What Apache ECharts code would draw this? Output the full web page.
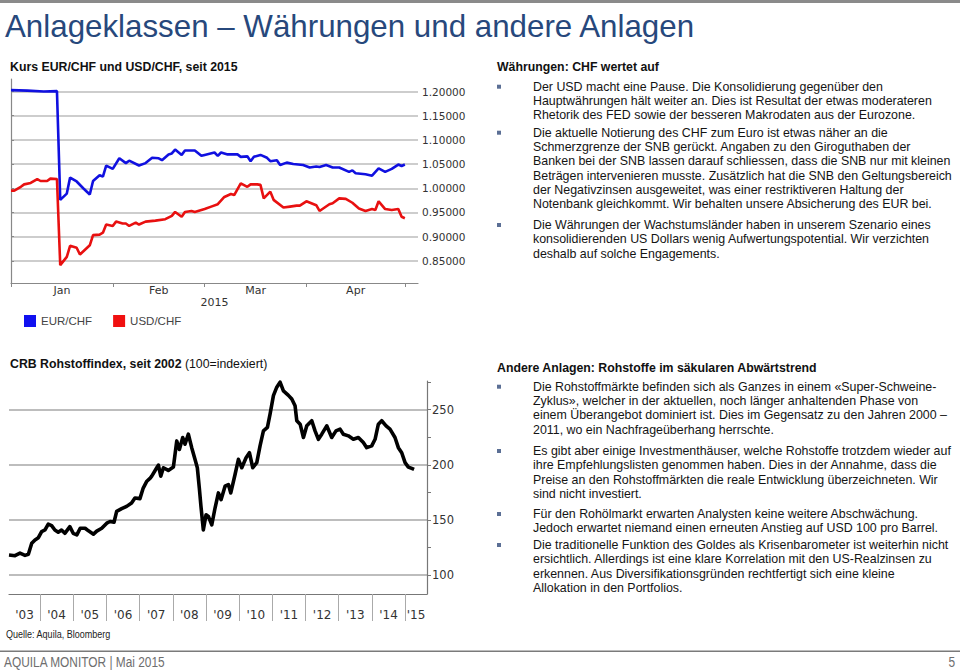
<!DOCTYPE html>
<html>
<head>
<meta charset="utf-8">
<script src="https://cdn.jsdelivr.net/npm/echarts@6/dist/echarts.min.js"></script>
<style>
html,body{margin:0;padding:0;background:#fff;}
#chart{width:960px;height:671px;}
</style>
</head>
<body>
<div id="chart"></div>
<script>
// ---------------- DATA ----------------
// Kurs EUR/CHF und USD/CHF, 2015
const eurDates = ['2015-01-01','2015-01-06','2015-01-11','2015-01-15','2015-01-16','2015-01-18','2015-01-19','2015-01-21','2015-01-23','2015-01-25','2015-01-26','2015-01-28','2015-01-29','2015-01-30','2015-02-01','2015-02-03','2015-02-05','2015-02-06','2015-02-09','2015-02-11','2015-02-13','2015-02-15','2015-02-16','2015-02-18','2015-02-19','2015-02-20','2015-02-22','2015-02-23','2015-02-26','2015-02-28','2015-03-01','2015-03-04','2015-03-05','2015-03-06','2015-03-08','2015-03-11','2015-03-12','2015-03-14','2015-03-15','2015-03-16','2015-03-18','2015-03-20','2015-03-21','2015-03-23','2015-03-24','2015-03-26','2015-03-28','2015-03-31','2015-04-02','2015-04-04','2015-04-05','2015-04-07','2015-04-09','2015-04-11','2015-04-14','2015-04-15','2015-04-16','2015-04-19','2015-04-21','2015-04-23','2015-04-25','2015-04-27','2015-04-29','2015-04-30','2015-05-01'];
const eurValues = [1.203,1.202,1.200,1.201,0.976,0.989,1.022,1.014,1.000,0.987,1.015,1.027,1.024,1.047,1.040,1.062,1.052,1.057,1.047,1.052,1.063,1.062,1.058,1.070,1.072,1.080,1.069,1.078,1.078,1.067,1.069,1.074,1.067,1.074,1.070,1.070,1.065,1.066,1.056,1.065,1.069,1.063,1.056,1.058,1.048,1.053,1.050,1.048,1.043,1.045,1.044,1.048,1.043,1.043,1.034,1.037,1.031,1.029,1.026,1.041,1.034,1.040,1.049,1.046,1.049];

const usdDates = ['2015-01-01','2015-01-02','2015-01-04','2015-01-05','2015-01-07','2015-01-09','2015-01-10','2015-01-12','2015-01-13','2015-01-15','2015-01-16','2015-01-18','2015-01-19','2015-01-21','2015-01-22','2015-01-25','2015-01-26','2015-01-28','2015-01-29','2015-01-30','2015-02-01','2015-02-02','2015-02-04','2015-02-05','2015-02-06','2015-02-08','2015-02-09','2015-02-11','2015-02-14','2015-02-17','2015-02-19','2015-02-20','2015-02-22','2015-02-23','2015-02-25','2015-02-26','2015-03-01','2015-03-03','2015-03-05','2015-03-07','2015-03-09','2015-03-10','2015-03-12','2015-03-14','2015-03-15','2015-03-17','2015-03-18','2015-03-19','2015-03-21','2015-03-22','2015-03-25','2015-03-27','2015-03-29','2015-03-30','2015-04-01','2015-04-04','2015-04-05','2015-04-08','2015-04-09','2015-04-11','2015-04-13','2015-04-15','2015-04-17','2015-04-19','2015-04-21','2015-04-22','2015-04-23','2015-04-25','2015-04-27','2015-04-29','2015-04-30','2015-05-01'];
const usdValues = [0.995,0.995,1.003,1.008,1.011,1.019,1.015,1.015,1.020,1.019,0.841,0.858,0.881,0.877,0.863,0.882,0.903,0.904,0.908,0.925,0.922,0.931,0.927,0.927,0.922,0.929,0.925,0.931,0.933,0.936,0.943,0.951,0.941,0.951,0.953,0.951,0.957,0.962,0.967,0.982,0.988,0.986,1.010,1.003,1.008,1.008,1.007,0.979,0.993,0.976,0.960,0.962,0.964,0.964,0.973,0.965,0.953,0.967,0.969,0.979,0.978,0.970,0.958,0.953,0.957,0.955,0.973,0.957,0.955,0.957,0.941,0.938];

const fxSeriesNames = ['EUR/CHF','USD/CHF'];
const fxMonthLabels = ['Jan','Feb','Mar','Apr'];
const fxMonthStarts = ['2015-01-01','2015-02-01','2015-03-01','2015-04-01','2015-05-01'];
const fxYearLabel = '2015';
const fxTicks = [0.85,0.90,0.95,1.00,1.05,1.10,1.15,1.20];

// CRB Rohstoffindex
const crbDates = ['2003-01-25','2003-04-01','2003-05-26','2003-07-20','2003-08-26','2003-10-02','2003-11-07','2003-12-14','2004-01-19','2004-02-25','2004-04-01','2004-05-08','2004-06-13','2004-07-20','2004-08-25','2004-10-01','2004-11-25','2005-01-01','2005-02-10','2005-03-19','2005-05-12','2005-06-18','2005-08-12','2005-09-17','2005-11-11','2006-01-05','2006-02-10','2006-03-26','2006-04-24','2006-06-18','2006-08-12','2006-10-05','2006-11-11','2007-01-05','2007-02-10','2007-03-22','2007-04-28','2007-05-15','2007-07-09','2007-07-27','2007-08-22','2007-09-20','2007-11-13','2008-01-08','2008-02-14','2008-03-14','2008-04-20','2008-05-15','2008-06-21','2008-07-28','2008-09-02','2008-09-28','2008-10-20','2008-11-07','2008-12-03','2009-01-02','2009-01-28','2009-03-06','2009-04-11','2009-05-18','2009-06-16','2009-07-30','2009-09-05','2009-10-01','2009-11-17','2009-12-24','2010-01-30','2010-03-18','2010-04-24','2010-05-31','2010-07-14','2010-08-19','2010-09-25','2010-11-08','2010-12-07','2011-01-13','2011-02-19','2011-03-27','2011-05-03','2011-06-27','2011-08-03','2011-09-08','2011-09-27','2011-11-03','2011-12-09','2012-01-15','2012-03-10','2012-04-15','2012-05-22','2012-06-28','2012-08-22','2012-10-16','2012-12-02','2013-01-16','2013-02-21','2013-04-17','2013-06-11','2013-08-05','2013-09-29','2013-11-05','2013-12-30','2014-02-05','2014-03-13','2014-04-19','2014-06-06','2014-07-19','2014-09-12','2014-10-19','2014-11-25','2015-01-01','2015-02-06','2015-03-15','2015-04-10'];
const crbValues = [118.3,117.7,120.0,118.0,119.0,129.0,132.0,134.0,139.6,141.0,146.3,145.0,141.0,139.0,141.0,138.0,144.0,138.0,136.6,142.6,142.6,140.2,137.2,140.0,142.6,147.2,148.7,148.0,157.9,160.3,162.4,165.5,170.0,169.4,179.0,185.2,188.0,189.8,197.4,199.8,189.8,197.4,195.0,198.0,221.7,214.0,224.8,218.7,227.8,215.6,205.0,197.4,179.0,162.4,141.1,154.8,153.3,145.7,160.9,174.6,168.5,180.7,182.2,174.6,191.3,205.0,197.4,206.5,211.0,197.4,202.0,217.2,230.8,233.9,246.0,262.8,270.4,275.0,267.0,263.0,259.7,253.6,240.0,236.9,224.8,235.4,240.0,230.8,223.2,227.8,235.4,224.8,230.8,232.4,227.8,226.3,223.2,224.8,220.2,215.6,217.2,223.2,236.9,240.0,235.4,232.4,224.8,215.6,211.0,202.0,198.0,196.8,195.9];

const crbYearLabels = ["'03","'04","'05","'06","'07","'08","'09","'10","'11","'12","'13","'14","'15"];
const crbYears = [2003,2004,2005,2006,2007,2008,2009,2010,2011,2012,2013,2014,2015];
const crbTicks = [100,150,200,250];
const crbMinorTicks = [100,125,150,175,200,225,250,275];

// Texts
const pageTitle = 'Anlageklassen – Währungen und andere Anlagen';
const fxTitle = 'Kurs EUR/CHF und USD/CHF, seit 2015';
const crbTitleBold = 'CRB Rohstoffindex, seit 2002';
const crbTitleRest = ' (100=indexiert)';
const fxHeading = 'Währungen: CHF wertet auf';
const fxBullets = [
  'Der USD macht eine Pause. Die Konsolidierung gegenüber den\nHauptwährungen hält weiter an. Dies ist Resultat der etwas moderateren\nRhetorik des FED sowie der besseren Makrodaten aus der Eurozone.',
  'Die aktuelle Notierung des CHF zum Euro ist etwas näher an die\nSchmerzgrenze der SNB gerückt. Angaben zu den Giroguthaben der\nBanken bei der SNB lassen darauf schliessen, dass die SNB nur mit kleinen\nBeträgen intervenieren musste. Zusätzlich hat die SNB den Geltungsbereich\nder Negativzinsen ausgeweitet, was einer restriktiveren Haltung der\nNotenbank gleichkommt. Wir behalten unsere Absicherung des EUR bei.',
  'Die Währungen der Wachstumsländer haben in unserem Szenario eines\nkonsolidierenden US Dollars wenig Aufwertungspotential. Wir verzichten\ndeshalb auf solche Engagements.'
];
const otherHeading = 'Andere Anlagen: Rohstoffe im säkularen Abwärtstrend';
const otherBullets = [
  'Die Rohstoffmärkte befinden sich als Ganzes in einem «Super-Schweine-\nZyklus», welcher in der aktuellen, noch länger anhaltenden Phase von\neinem Überangebot dominiert ist. Dies im Gegensatz zu den Jahren 2000 –\n2011, wo ein Nachfrageüberhang herrschte.',
  'Es gibt aber einige Investmenthäuser, welche Rohstoffe trotzdem wieder auf\nihre Empfehlungslisten genommen haben. Dies in der Annahme, dass die\nPreise an den Rohstoffmärkten die reale Entwicklung überzeichneten. Wir\nsind nicht investiert.',
  'Für den Rohölmarkt erwarten Analysten keine weitere Abschwächung.\nJedoch erwartet niemand einen erneuten Anstieg auf USD 100 pro Barrel.',
  'Die traditionelle Funktion des Goldes als Krisenbarometer ist weiterhin nicht\nersichtlich. Allerdings ist eine klare Korrelation mit den US-Realzinsen zu\nerkennen. Aus Diversifikationsgründen rechtfertigt sich eine kleine\nAllokation in den Portfolios.'
];
const sourceText = 'Quelle: Aquila, Bloomberg';
const footerText = 'AQUILA MONITOR | Mai 2015';
const pageNumber = '5';

// ---------------- HELPERS ----------------
function utc(s){ const p = s.split('-').map(Number); return Date.UTC(p[0], p[1]-1, p[2]); }
function day2015(s){ return (utc(s) - Date.UTC(2015,0,1)) / 86400000; }
function yearFrac(s){ const y = +s.slice(0,4); const a = Date.UTC(y,0,1), b = Date.UTC(y+1,0,1); return y + (utc(s)-a)/(b-a); }

const FONT = '"Liberation Sans", Arial, Helvetica, sans-serif';
const AXFONT = '"DejaVu Sans", Verdana, sans-serif';

// Top chart axis layout
const fxMin = 0, fxMax = 124;
const fxTickDays = fxMonthStarts.map(day2015);
const fxLabelPos = fxMonthLabels.map((m,i) => (fxTickDays[i] + fxTickDays[i+1]) / 2);

// Bottom chart axis layout
const crbMin = yearFrac('2003-01-25');
const crbMax = yearFrac('2015-08-30');
const crbTickYears = crbYears.filter(y => y > crbMin && y < crbMax);
const crbLabelPos = crbYears.map(y => (Math.max(y, crbMin) + Math.min(y+1, crbMax)) / 2);

function nearestIndex(arr, v){ let bi = 0, bd = Infinity; arr.forEach((a,i)=>{ const d = Math.abs(a-v); if(d<bd){bd=d;bi=i;} }); return bi; }

// ---------------- GRAPHICS (texts) ----------------
const graphic = [];
graphic.push({type:'rect', shape:{x:0,y:0,width:960,height:3}, style:{fill:'#8a8a8a'}, silent:true});
graphic.push({type:'text', x:5, y:26, style:{text:pageTitle, fontFamily:FONT, fontSize:31.3, fill:'#27487c', verticalAlign:'middle'}});
graphic.push({type:'text', x:10, y:67, style:{text:fxTitle, fontFamily:FONT, fontSize:12.3, fontWeight:'bold', fill:'#111', verticalAlign:'middle'}});
graphic.push({type:'text', x:10, y:364, style:{text:'{b|'+crbTitleBold+'}'+crbTitleRest, fontFamily:FONT, fontSize:12.3, fill:'#111', verticalAlign:'middle', rich:{b:{fontFamily:FONT, fontSize:12.3, fontWeight:'bold', fill:'#111'}}}});
graphic.push({type:'text', x:497, y:67, style:{text:fxHeading, fontFamily:FONT, fontSize:12.3, fontWeight:'bold', fill:'#111', verticalAlign:'middle'}});
graphic.push({type:'text', x:497, y:367.5, style:{text:otherHeading, fontFamily:FONT, fontSize:12.3, fontWeight:'bold', fill:'#111', verticalAlign:'middle'}});

const LH = 14.3;
function addBullets(list, firstCenters){
  list.forEach((txt, i) => {
    const c = firstCenters[i];
    graphic.push({type:'rect', shape:{x:497, y:c-2, width:4, height:4}, style:{fill:'#5b6f95'}, silent:true});
    graphic.push({type:'text', x:533, y:c - LH/2, style:{text:txt, fontFamily:FONT, fontSize:12.4, fill:'#141414', lineHeight:LH, verticalAlign:'top'}});
  });
}
addBullets(fxBullets, [86.7, 132.7, 225]);
addBullets(otherBullets, [386.7, 451, 514, 545]);

graphic.push({type:'text', x:6, y:634, scaleX:0.86, style:{text:sourceText, fontFamily:FONT, fontSize:10.5, fill:'#222', verticalAlign:'middle'}});
graphic.push({type:'rect', shape:{x:0, y:650.5, width:960, height:1.5}, style:{fill:'#7a7a7a'}, silent:true});
graphic.push({type:'text', x:4, y:662.5, scaleX:0.82, style:{text:footerText, fontFamily:FONT, fontSize:14.5, fill:'#6e6e6e', verticalAlign:'middle'}});
graphic.push({type:'text', x:955, y:662.5, scaleX:0.82, style:{text:pageNumber, fontFamily:FONT, fontSize:14.5, fill:'#6e6e6e', verticalAlign:'middle', align:'right'}});

// ---------------- OPTION ----------------
const option = {
  animation: false,
  backgroundColor: '#ffffff',
  graphic: graphic,
  legend: {
    data: fxSeriesNames, left: 19, top: 310, icon: 'rect', itemWidth: 12, itemHeight: 12, itemGap: 21,
    selectedMode: false,
    textStyle: {fontFamily: FONT, fontSize: 11.5, color: '#444'}
  },
  grid: [
    {left: 11, top: 79, width: 407, height: 204},
    {left: 9, top: 381, width: 418, height: 213}
  ],
  xAxis: [
    {
      type: 'value', gridIndex: 0, min: fxMin, max: fxMax,
      axisLine: {show: true, lineStyle: {color: '#888', width: 1.2}},
      axisTick: {show: true, customValues: fxTickDays, length: 4, lineStyle: {color: '#888'}},
      axisLabel: {show: true, customValues: fxLabelPos, margin: 2, fontFamily: AXFONT, fontSize: 11, color: '#333',
        formatter: v => fxMonthLabels[nearestIndex(fxLabelPos, v)]},
      splitLine: {show: false},
      name: fxYearLabel, nameLocation: 'middle', nameGap: 14,
      nameTextStyle: {fontFamily: AXFONT, fontSize: 11, color: '#333'}
    },
    {
      type: 'value', gridIndex: 1, min: crbMin, max: crbMax,
      axisLine: {show: true, lineStyle: {color: '#777', width: 1.2}},
      axisTick: {show: true, customValues: crbTickYears, length: 27, lineStyle: {color: '#aaa'}},
      axisLabel: {show: true, customValues: crbLabelPos, margin: 15, fontFamily: AXFONT, fontSize: 12, color: '#333',
        formatter: v => crbYearLabels[nearestIndex(crbLabelPos, v)]},
      splitLine: {show: false}
    }
  ],
  yAxis: [
    {
      type: 'value', gridIndex: 0, position: 'right', min: 0.804, max: 1.226,
      axisLine: {show: true, lineStyle: {color: '#888', width: 1.2}},
      axisTick: {show: true, customValues: fxTicks, length: 3, lineStyle: {color: '#888'}},
      axisLabel: {show: true, customValues: fxTicks, margin: 4, fontFamily: AXFONT, fontSize: 10.5, color: '#333',
        formatter: v => v.toFixed(5)},
      splitLine: {show: true, lineStyle: {color: '#bdbdbd', width: 1.6}}
    },
    {
      type: 'value', gridIndex: 1, position: 'right', min: 83, max: 276,
      axisLine: {show: true, lineStyle: {color: '#777', width: 1.2}},
      axisTick: {show: true, customValues: crbTicks, length: 4, lineStyle: {color: '#777'}},
      axisLabel: {show: true, customValues: crbTicks, margin: 5, fontFamily: AXFONT, fontSize: 11.5, color: '#333'},
      splitLine: {show: true, lineStyle: {color: '#bdbdbd', width: 1.8}}
    },
    {
      type: 'value', gridIndex: 1, position: 'right', min: 83, max: 276, offset: 0,
      axisLine: {show: false},
      axisTick: {show: true, customValues: crbMinorTicks, length: 4, lineStyle: {color: '#777'}},
      axisLabel: {show: false},
      splitLine: {show: false}
    }
  ],
  series: [
    {
      name: fxSeriesNames[0], type: 'line', xAxisIndex: 0, yAxisIndex: 0, showSymbol: false, symbol: 'none',
      data: eurDates.map((d,i) => [day2015(d), eurValues[i]]),
      lineStyle: {color: '#1010e0', width: 2.6}, itemStyle: {color: '#1010f0'}
    },
    {
      name: fxSeriesNames[1], type: 'line', xAxisIndex: 0, yAxisIndex: 0, showSymbol: false, symbol: 'none',
      data: usdDates.map((d,i) => [day2015(d), usdValues[i]]),
      lineStyle: {color: '#e81010', width: 2.6}, itemStyle: {color: '#f01010'}
    },
    {
      name: 'CRB', type: 'line', xAxisIndex: 1, yAxisIndex: 1, showSymbol: false, symbol: 'none',
      data: crbDates.map((d,i) => [yearFrac(d), crbValues[i]]),
      lineStyle: {color: '#000', width: 3.6, join: 'round'}, itemStyle: {color: '#000'}
    }
  ]
};

const chart = echarts.init(document.getElementById('chart'), null, {renderer: 'svg', width: 960, height: 671});
chart.setOption(option);
</script>
</body>
</html>
